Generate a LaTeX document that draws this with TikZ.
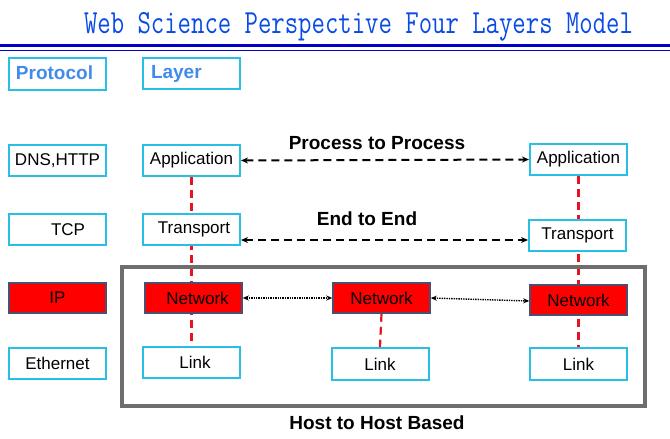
\documentclass[tikz,border=0pt]{standalone}
\usepackage{fontspec}
\setmainfont{Liberation Sans}
\usepackage{graphicx}
\usetikzlibrary{arrows.meta,backgrounds}
\definecolor{cyanb}{RGB}{40,190,230}
\definecolor{titleblue}{RGB}{10,75,230}
\definecolor{ruleblue}{RGB}{0,0,200}
\definecolor{labblue}{RGB}{65,140,235}
\definecolor{redfill}{RGB}{255,0,0}
\definecolor{dashred}{RGB}{230,20,30}
\definecolor{redborder}{RGB}{75,80,115}
\definecolor{hostgray}{RGB}{110,110,110}
\tikzset{
  cbox/.style={draw=cyanb, line width=2pt, fill=white, minimum width=97pt, minimum height=31pt, inner sep=0pt, font=\fontsize{17}{20}\selectfont},
  rbox/.style={draw=redborder, line width=1.5pt, fill=redfill, minimum width=97pt, minimum height=30pt, inner sep=0pt, font=\fontsize{17}{20}\selectfont},
  headbox/.style={cbox, align=left, font=\fontsize{19}{22}\selectfont\bfseries, text=labblue},
  bigbox/.style={draw=hostgray, line width=4pt, minimum width=523pt, minimum height=139pt, inner sep=0pt},
  lbl/.style={font=\fontsize{19}{22}\selectfont\bfseries, inner sep=0pt},
  dasharrow/.style={draw=black, line width=2pt, dash pattern=on 8pt off 5pt, {Stealth[length=7pt,width=6pt]}-{Stealth[length=7pt,width=6pt]}},
  dotarrow/.style={draw=black, line width=1.4pt, dash pattern=on 1.4pt off 1pt, {Stealth[length=6pt,width=5pt]}-{Stealth[length=6pt,width=5pt]}},
  reddash/.style={draw=dashred, line width=2.2pt, dash pattern=on 8pt off 5pt},
}
\begin{document}
\begin{tikzpicture}[x=1pt,y=-1pt]
\useasboundingbox (0,0) rectangle (670,439);
% title and rules
\node[anchor=base, inner sep=0pt, text=titleblue] (title) at (358.5,33) {\scalebox{1}[1.3]{\fontsize{26}{30}\selectfont\ttfamily\addfontfeatures{FakeBold=1.2}Web Science Perspective Four Layers Model}};
\draw[ruleblue, line width=3pt] (0,45) -- (670,45);
\draw[ruleblue, line width=1pt] (0,50) -- (670,50);
% host box
\node[bigbox] (host) at (383.5,336.5) {};
% headers
\node[headbox, text width=83pt, inner xsep=7pt, minimum height=32pt] (proto) at (57.5,74) {\raisebox{3pt}{Protocol}};
\node[headbox, text width=81pt, inner xsep=8pt] (layer) at (191.5,73.5) {Layer};
% left column
\node[cbox] (dns) at (57.5,160.5) {DNS,HTTP};
\node[cbox] (tcp) at (57.5,229.5) {\hspace*{21pt}TCP};
\node[rbox] (ip) at (57.5,298) {IP};
\node[cbox] (eth) at (57.5,363.5) {Ethernet};
% host 1
\node[cbox] (appL) at (191.5,160.5) {Application};
\node[cbox] (trL) at (191.5,229.5) {\hspace*{5pt}Transport};
\node[rbox] (netL) at (193.5,298) {\hspace*{8pt}Network};
\node[cbox] (linkL) at (191.5,362.5) {\hspace*{7pt}Link};
% router
\node[rbox] (netM) at (381.5,298) {Network};
\node[cbox, minimum height=32pt] (linkM) at (380,364) {Link};
% host 2
\node[cbox] (appR) at (578.5,159.5) {Application};
\node[cbox] (trR) at (577.5,235.5) {Transport};
\node[rbox] (netR) at (578.5,300) {Network};
\node[cbox, minimum height=32pt] (linkR) at (578.5,364) {Link};
% vertical red dashed lines
\begin{pgfonlayer}{background}
\draw[reddash] (appL.south) -- (linkL.north);
\draw[reddash] (netM.south) -- (linkM.north);
\draw[reddash] (appR.south) -- (linkR.north);
\end{pgfonlayer}
% horizontal arrows
\draw[dasharrow] (appL.east) -- (appR.west);
\draw[dasharrow] ([yshift=-10.5pt]trL.east) -- ([yshift=-4.5pt]trR.west);
\draw[dotarrow] (netL.east) -- (netM.west);
\draw[dotarrow] (netM.east) -- ([yshift=-1pt]netR.west);
% labels
\node[lbl] (ptp) at (377,143) {Process to Process};
\node[lbl] (ete) at (367,219) {End to End};
\node[lbl] (hth) at (377,423) {Host to Host Based};
\end{tikzpicture}
\end{document}
